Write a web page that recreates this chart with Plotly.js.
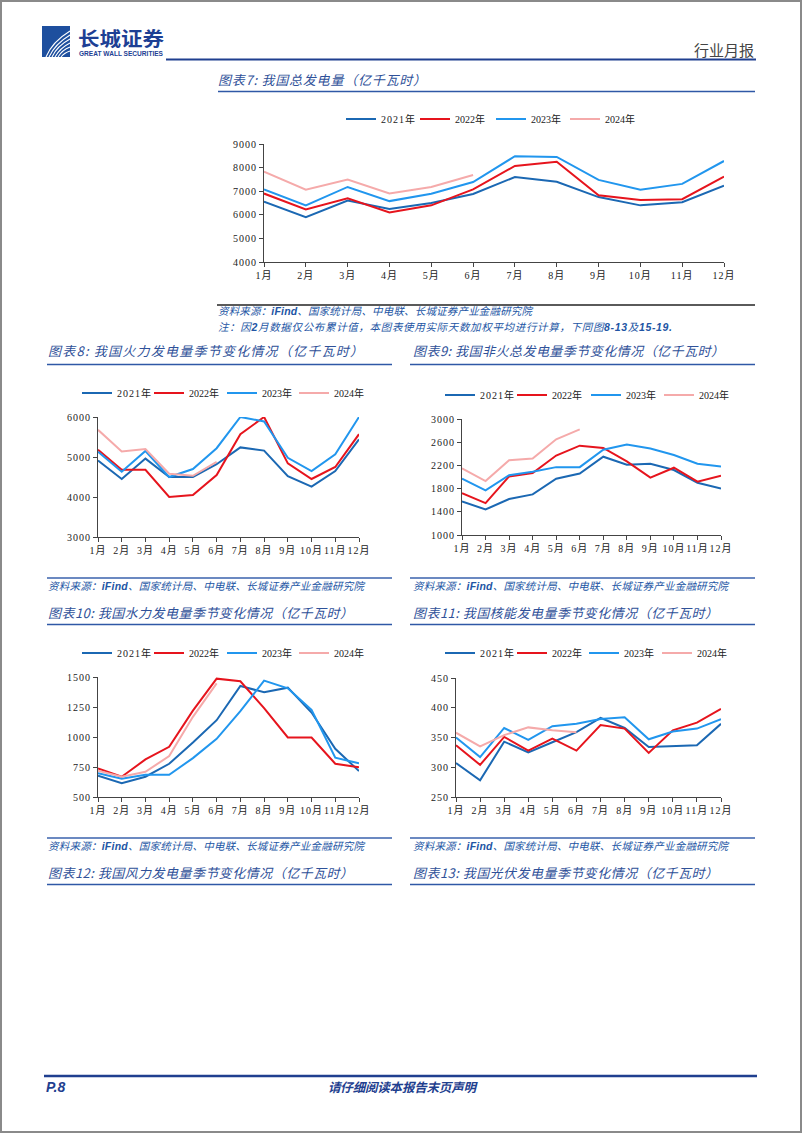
<!DOCTYPE html>
<html><head><meta charset="utf-8">
<script src="https://cdn.plot.ly/plotly-3.0.1.min.js"></script>
<style>
html,body{margin:0;padding:0;background:#fff;}
#page{position:relative;width:802px;height:1133px;overflow:hidden;background:#fff;}
#overlay{position:absolute;left:0;top:0;}
.chart{position:absolute;}
.xtick text,.ytick text,.legendtext{letter-spacing:1px;}
</style></head>
<body><div id="page">
<svg id="overlay" width="802" height="1133" xmlns="http://www.w3.org/2000/svg">
  <rect x="1" y="1" width="800" height="1131" fill="none" stroke="#8a8a8a" stroke-width="2"/>
  <!-- logo -->
  <rect x="42" y="26" width="28" height="31" fill="#1e4f9e"/>
  <g fill="none" stroke="#fff" stroke-width="1.1">
    <path d="M46,57 Q52,42 70,31"/>
    <path d="M49,57 Q55,44 70,35"/>
    <path d="M52,57 Q57,46 70,39"/>
    <path d="M55,57 Q60,48 70,43"/>
    <path d="M58,57 Q62,50 70,47"/>
    <path d="M61,57 Q64,53 70,51"/>
  </g>
  <text x="78" y="45.5" font-family="Noto Sans CJK SC" font-weight="bold" font-size="19" fill="#1d3f94" textLength="86" lengthAdjust="spacingAndGlyphs">长城证券</text>
  <text x="79" y="55.5" font-family="Liberation Sans" font-weight="bold" font-size="6.5" fill="#1d3f94" textLength="84" lengthAdjust="spacingAndGlyphs">GREAT WALL SECURITIES</text>
  <text x="754" y="56" text-anchor="end" font-family="Noto Sans CJK SC" font-size="15" fill="#444">行业月报</text>
  <line x1="166" y1="59.5" x2="756" y2="59.5" stroke="#1f3f8f" stroke-width="2"/>

  <!-- chart 7 heading -->
  <text x="218" y="85" font-family="Noto Sans CJK SC" font-style="italic" font-size="13" fill="#2f5199" textLength="208" lengthAdjust="spacing">图表7: 我国总发电量（亿千瓦时）</text>
  <line x1="218" y1="91.5" x2="755" y2="91.5" stroke="#2f58a6" stroke-width="1.5"/>
  <line x1="217" y1="305" x2="755" y2="305" stroke="#5a5a5a" stroke-width="2"/>
  <text x="218" y="315" font-family="Noto Sans CJK SC" font-style="italic" font-size="10.5" fill="#2255a4" textLength="314" lengthAdjust="spacing">资料来源：<tspan font-family="Liberation Sans" font-weight="bold">iFind</tspan>、国家统计局、中电联、长城证券产业金融研究院</text>
  <text x="218" y="331" font-family="Noto Sans CJK SC" font-style="italic" font-size="10.5" fill="#2255a4" textLength="454" lengthAdjust="spacing">注：因<tspan font-family="Liberation Sans" font-weight="bold">2</tspan>月数据仅公布累计值，本图表使用实际天数加权平均进行计算，下同图<tspan font-family="Liberation Sans" font-weight="bold">8-13</tspan>及<tspan font-family="Liberation Sans" font-weight="bold">15-19.</tspan></text>

  <!-- chart 8 / 9 headings -->
  <text x="48" y="356" font-family="Noto Sans CJK SC" font-style="italic" font-size="13" fill="#2f5199" textLength="315" lengthAdjust="spacing">图表8: 我国火力发电量季节变化情况（亿千瓦时）</text>
  <text x="413" y="356" font-family="Noto Sans CJK SC" font-style="italic" font-size="13" fill="#2f5199" textLength="311" lengthAdjust="spacing">图表9: 我国非火总发电量季节变化情况（亿千瓦时）</text>
  <line x1="47" y1="364.5" x2="392" y2="364.5" stroke="#2f58a6" stroke-width="1.5"/>
  <line x1="410" y1="364.5" x2="755" y2="364.5" stroke="#2f58a6" stroke-width="1.5"/>

  <line x1="47" y1="578" x2="392" y2="578" stroke="#3a62ad" stroke-width="1.5"/>
  <line x1="410" y1="578" x2="755" y2="578" stroke="#3a62ad" stroke-width="1.5"/>
  <text x="48" y="590" font-family="Noto Sans CJK SC" font-style="italic" font-size="10.5" fill="#2255a4" textLength="316" lengthAdjust="spacing">资料来源：<tspan font-family="Liberation Sans" font-weight="bold">iFind</tspan>、国家统计局、中电联、长城证券产业金融研究院</text>
  <text x="413" y="590" font-family="Noto Sans CJK SC" font-style="italic" font-size="10.5" fill="#2255a4" textLength="315" lengthAdjust="spacing">资料来源：<tspan font-family="Liberation Sans" font-weight="bold">iFind</tspan>、国家统计局、中电联、长城证券产业金融研究院</text>

  <!-- chart 10 / 11 headings -->
  <text x="48" y="618" font-family="Noto Sans CJK SC" font-style="italic" font-size="13" fill="#2f5199" textLength="305" lengthAdjust="spacing">图表10: 我国水力发电量季节变化情况（亿千瓦时）</text>
  <text x="413" y="618" font-family="Noto Sans CJK SC" font-style="italic" font-size="13" fill="#2f5199" textLength="305" lengthAdjust="spacing">图表11: 我国核能发电量季节变化情况（亿千瓦时）</text>
  <line x1="47" y1="624.5" x2="392" y2="624.5" stroke="#2f58a6" stroke-width="1.5"/>
  <line x1="410" y1="624.5" x2="755" y2="624.5" stroke="#2f58a6" stroke-width="1.5"/>

  <line x1="47" y1="838" x2="392" y2="838" stroke="#3a62ad" stroke-width="1.5"/>
  <line x1="410" y1="838" x2="755" y2="838" stroke="#3a62ad" stroke-width="1.5"/>
  <text x="48" y="850" font-family="Noto Sans CJK SC" font-style="italic" font-size="10.5" fill="#2255a4" textLength="316" lengthAdjust="spacing">资料来源：<tspan font-family="Liberation Sans" font-weight="bold">iFind</tspan>、国家统计局、中电联、长城证券产业金融研究院</text>
  <text x="413" y="850" font-family="Noto Sans CJK SC" font-style="italic" font-size="10.5" fill="#2255a4" textLength="315" lengthAdjust="spacing">资料来源：<tspan font-family="Liberation Sans" font-weight="bold">iFind</tspan>、国家统计局、中电联、长城证券产业金融研究院</text>

  <!-- chart 12 / 13 headings -->
  <text x="48" y="878" font-family="Noto Sans CJK SC" font-style="italic" font-size="13" fill="#2f5199" textLength="305" lengthAdjust="spacing">图表12: 我国风力发电量季节变化情况（亿千瓦时）</text>
  <text x="413" y="878" font-family="Noto Sans CJK SC" font-style="italic" font-size="13" fill="#2f5199" textLength="305" lengthAdjust="spacing">图表13: 我国光伏发电量季节变化情况（亿千瓦时）</text>
  <line x1="47" y1="884.5" x2="392" y2="884.5" stroke="#2f58a6" stroke-width="1.5"/>
  <line x1="410" y1="884.5" x2="755" y2="884.5" stroke="#2f58a6" stroke-width="1.5"/>

  <!-- footer -->
  <line x1="44" y1="1076" x2="757" y2="1076" stroke="#1f3f8f" stroke-width="2.5"/>
  <text x="46" y="1092" font-family="Liberation Sans" font-style="italic" font-weight="bold" font-size="14" fill="#1f3f8f">P.8</text>
  <text x="402" y="1092" text-anchor="middle" font-family="Noto Sans CJK SC" font-style="italic" font-weight="bold" font-size="12.5" fill="#1f3f8f" textLength="148" lengthAdjust="spacing">请仔细阅读本报告末页声明</text>
</svg>
<div id="c7" class="chart"></div>
<div id="c8" class="chart"></div>
<div id="c9" class="chart"></div>
<div id="c10" class="chart"></div>
<div id="c11" class="chart"></div>
</div>
<script>
// ---------- data ----------
const months = ['1月','2月','3月','4月','5月','6月','7月','8月','9月','10月','11月','12月'];
const years = ['2021年','2022年','2023年','2024年'];

const total2021 = [6560, 5900, 6600, 6250, 6500, 6880, 7600, 7400, 6750, 6400, 6530, 7230];
const total2022 = [6900, 6230, 6700, 6100, 6400, 7080, 8070, 8250, 6830, 6630, 6660, 7620];
const total2023 = [7080, 6400, 7180, 6580, 6890, 7390, 8480, 8450, 7480, 7060, 7310, 8280];
const total2024 = [7830, 7060, 7490, 6900, 7180, 7690];

const thermal2021 = [4910, 4450, 4960, 4500, 4500, 4820, 5240, 5160, 4520, 4260, 4650, 5440];
const thermal2022 = [5180, 4680, 4680, 4000, 4050, 4550, 5570, 6000, 4840, 4450, 4750, 5570];
const thermal2023 = [5130, 4630, 5150, 4500, 4700, 5220, 6000, 5890, 4980, 4650, 5070, 6000];
const thermal2024 = [5680, 5140, 5200, 4580, 4530, 4880];

const nonThermal2021 = [1580, 1440, 1620, 1700, 1970, 2060, 2350, 2210, 2230, 2120, 1900, 1800];
const nonThermal2022 = [1720, 1550, 2010, 2070, 2370, 2540, 2500, 2270, 1990, 2160, 1920, 2020];
const nonThermal2023 = [1970, 1770, 2030, 2090, 2170, 2170, 2470, 2560, 2490, 2380, 2230, 2180];
const nonThermal2024 = [2150, 1930, 2290, 2320, 2650, 2820];

const hydro2021 = [677, 614, 669, 777, 954, 1140, 1425, 1373, 1411, 1204, 902, 716];
const hydro2022 = [738, 669, 813, 918, 1220, 1486, 1464, 1240, 996, 996, 777, 747];
const hydro2023 = [699, 652, 685, 685, 824, 985, 1215, 1470, 1406, 1226, 827, 780];
const hydro2024 = [719, 669, 710, 841, 1168, 1447];

const nuclear2021 = [307, 278, 343, 325, 342, 359, 383, 366, 334, 336, 337, 373];
const nuclear2022 = [337, 304, 351, 328, 348, 328, 371, 365, 324, 362, 375, 398];
const nuclear2023 = [350, 317, 366, 346, 369, 373, 381, 384, 347, 360, 365, 381];
const nuclear2024 = [358, 335, 354, 367, 362, 359];

// ---------- drawing ----------
const colors = ['#1b68b3', '#e6141d', '#2196ee', '#f5aaaa'];
const tickFont = {family: 'Liberation Serif, Noto Sans CJK SC, serif', size: 10, color: '#222'};

function drawChart(id, box, plot, legendXs, legendY, yRange, dtick, series) {
  const el = document.getElementById(id);
  el.style.left = box.left + 'px';
  el.style.top = box.top + 'px';
  el.style.width = box.w + 'px';
  el.style.height = box.h + 'px';
  const legendName = i => (i === 0 ? 'legend' : 'legend' + (i + 1));
  const traces = series.map((s, i) => ({
    type: 'scatter', mode: 'lines', name: years[i],
    x: months.slice(0, s.length), y: s,
    line: {color: colors[i], width: 2},
    cliponaxis: false,
    legend: legendName(i)
  }));
  const layout = {
    width: box.w, height: box.h,
    margin: {l: plot.x0 - box.left, r: box.left + box.w - plot.x1, t: plot.y0 - box.top, b: box.top + box.h - plot.y1, pad: 0},
    paper_bgcolor: 'rgba(0,0,0,0)', plot_bgcolor: 'rgba(0,0,0,0)',
    showlegend: true,
    xaxis: {
      type: 'category', categoryorder: 'array', categoryarray: months, range: [0, 11],
      showline: true, linecolor: '#444', linewidth: 1, ticks: 'outside', ticklen: 4, tickcolor: '#444',
      tickfont: tickFont, showgrid: false, zeroline: false, fixedrange: true
    },
    yaxis: {
      range: yRange, tick0: yRange[0], dtick: dtick,
      showline: true, linecolor: '#444', linewidth: 1, ticks: 'outside', ticklen: 4, tickcolor: '#444',
      tickfont: tickFont, showgrid: false, zeroline: false, fixedrange: true
    }
  };
  legendXs.forEach((lx, i) => {
    layout[legendName(i)] = {
      orientation: 'h', xref: 'container', yref: 'container',
      x: (lx - 6 - box.left) / box.w, xanchor: 'left',
      y: 1 - (legendY - box.top) / box.h, yanchor: 'middle',
      font: tickFont, bgcolor: 'rgba(0,0,0,0)'
    };
  });
  Plotly.newPlot(el, traces, layout, {staticPlot: true, displayModeBar: false});
}

// legendXs = page x where each legend line begins
drawChart('c7', {left: 200, top: 100, w: 560, h: 190}, {x0: 263.7, x1: 723.8, y0: 144, y1: 262.3},
  [347, 421, 497, 571], 119, [4000, 9000], 1000, [total2021, total2022, total2023, total2024]);
drawChart('c8', {left: 40, top: 375, w: 350, h: 190}, {x0: 98.3, x1: 359, y0: 417, y1: 537.3},
  [83, 155, 228, 300], 393, [3000, 6000], 1000, [thermal2021, thermal2022, thermal2023, thermal2024]);
drawChart('c9', {left: 405, top: 375, w: 350, h: 190}, {x0: 461.7, x1: 721.3, y0: 419.3, y1: 535},
  [446, 518, 592, 665], 395, [1000, 3000], 400, [nonThermal2021, nonThermal2022, nonThermal2023, nonThermal2024]);
drawChart('c10', {left: 40, top: 635, w: 350, h: 190}, {x0: 98.3, x1: 359, y0: 677, y1: 797.3},
  [83, 155, 228, 300], 653, [500, 1500], 250, [hydro2021, hydro2022, hydro2023, hydro2024]);
drawChart('c11', {left: 405, top: 635, w: 350, h: 190}, {x0: 455.7, x1: 721.3, y0: 677.7, y1: 797.3},
  [446, 518, 590, 663], 653, [250, 450], 50, [nuclear2021, nuclear2022, nuclear2023, nuclear2024]);
</script>
</body></html>
